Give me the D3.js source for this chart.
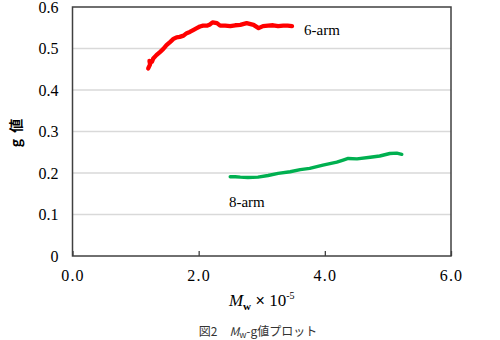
<!DOCTYPE html>
<html><head><meta charset="utf-8">
<script src="https://cdn.jsdelivr.net/npm/d3@7"></script>
<style>body{margin:0;background:#fff}svg{display:block}</style>
</head><body>
<svg id="c" width="500" height="340"></svg>
<script>
const xTicks = [0, 2, 4, 6];
const yTicks = [0, 0.1, 0.2, 0.3, 0.4, 0.5, 0.6];
const seriesNames = ["6-arm", "8-arm"];
const arm6X = [1.20,1.23,1.22,1.26,1.28,1.33,1.39,1.44,1.49,1.55,1.60,1.65,1.70,1.76,1.81,1.86,1.92,1.97,2.02,2.07,2.13,2.18,2.22,2.29,2.34,2.42,2.50,2.58,2.66,2.76,2.87,2.95,3.02,3.10,3.18,3.26,3.34,3.41,3.48];
const arm6Y = [0.452,0.462,0.470,0.468,0.476,0.484,0.492,0.499,0.508,0.516,0.523,0.527,0.528,0.531,0.537,0.540,0.545,0.549,0.553,0.555,0.555,0.558,0.563,0.561,0.555,0.555,0.554,0.556,0.557,0.561,0.557,0.549,0.554,0.555,0.556,0.554,0.555,0.555,0.554];
const arm8X = [2.50,2.58,2.66,2.78,2.94,3.10,3.26,3.45,3.61,3.76,3.97,4.19,4.29,4.37,4.51,4.72,4.87,5.03,5.14,5.22];
const arm8Y = [0.191,0.191,0.190,0.189,0.190,0.194,0.199,0.203,0.208,0.211,0.219,0.226,0.231,0.235,0.234,0.238,0.241,0.247,0.248,0.245];

const svg = d3.select("#c");
const L = 72.5, R = 451, T = 7, B = 256;
const x = d3.scaleLinear().domain([0, 6]).range([L, R]);
const y = d3.scaleLinear().domain([0, 0.6]).range([B, T]);

// gridlines
svg.append("g").selectAll("line").data(yTicks.filter(v => v > 0 && v < 0.6)).join("line")
  .attr("x1", L).attr("x2", R).attr("y1", d => y(d)).attr("y2", d => y(d))
  .attr("stroke", "#d9d9d9").attr("stroke-width", 1.3);

// frame
svg.append("rect").attr("x", L).attr("y", T).attr("width", R - L).attr("height", B - T)
  .attr("fill", "none").attr("stroke", "#404040").attr("stroke-width", 1.5);

// x axis (inward ticks)
const xa = svg.append("g").attr("transform", `translate(0,${B})`)
  .call(d3.axisBottom(x).tickValues(xTicks).tickSizeInner(-5).tickSizeOuter(0).tickPadding(14).tickFormat(d3.format(".1f")));
xa.select(".domain").remove();
xa.selectAll("line").attr("stroke", "#404040").attr("stroke-width", 1.3);
xa.selectAll("text").attr("font-family", "Liberation Serif, serif").attr("font-size", 16).attr("fill", "#000").attr("letter-spacing", 1.2);

// y axis
const ya = svg.append("g").attr("transform", `translate(${L},0)`)
  .call(d3.axisLeft(y).tickValues(yTicks).tickSize(0).tickPadding(14).tickFormat(d => d === 0 ? "0" : d3.format(".1f")(d)));
ya.select(".domain").remove();
ya.selectAll("text").attr("font-family", "Liberation Serif, serif").attr("font-size", 16).attr("fill", "#000");

// series
const line = d3.line().x(d => x(d[0])).y(d => y(d[1]));
const d6 = arm6X.map((v, i) => [v, arm6Y[i]]);
const d8 = arm8X.map((v, i) => [v, arm8Y[i]]);
svg.append("path").datum(d6).attr("d", line).attr("fill", "none").attr("stroke", "#ff0000")
  .attr("stroke-width", 4.3).attr("stroke-linejoin", "round").attr("stroke-linecap", "round");
svg.append("path").datum(d8).attr("d", line).attr("fill", "none").attr("stroke", "#00b050")
  .attr("stroke-width", 3.4).attr("stroke-linejoin", "round").attr("stroke-linecap", "round");

// series labels
svg.append("text").attr("x", x(3.67)).attr("y", y(0.532)).text(seriesNames[0])
  .attr("font-family", "Liberation Serif, serif").attr("font-size", 15).attr("fill", "#000");
svg.append("text").attr("x", x(2.48)).attr("y", y(0.118)).text(seriesNames[1])
  .attr("font-family", "Liberation Serif, serif").attr("font-size", 15).attr("fill", "#000");

// y title
const yt = svg.append("text").attr("transform", "translate(21,133) rotate(-90)").attr("text-anchor", "middle")
  .attr("font-family", "Noto Sans CJK JP, sans-serif").attr("font-size", 14).attr("fill", "#000");
yt.append("tspan").attr("font-weight", "bold").text("g");
yt.append("tspan").attr("dx", 6).attr("font-weight", "bold").text("値");

// x title
const xt = svg.append("text").attr("x", (L + R) / 2).attr("y", 306).attr("text-anchor", "middle")
  .attr("font-family", "Liberation Serif, serif").attr("font-size", 17).attr("fill", "#000");
xt.append("tspan").attr("font-style", "italic").text("M");
xt.append("tspan").attr("font-size", 11).attr("font-weight", "bold").attr("dy", 4).text("w");
xt.append("tspan").attr("dy", -4).attr("font-family", "Liberation Sans, sans-serif").attr("font-size", 16).text(" × ");
xt.append("tspan").text("10");
xt.append("tspan").attr("font-size", 10).attr("dy", -7).text("-5");

// caption
const cp = svg.append("text").attr("x", 258).attr("y", 336).attr("text-anchor", "middle")
  .attr("font-family", "Noto Sans CJK JP, sans-serif").attr("font-size", 12).attr("fill", "#333");
cp.append("tspan").text("図2　");
cp.append("tspan").attr("font-style", "italic").text("M");
cp.append("tspan").attr("font-size", 9).attr("dy", 2).text("w");
cp.append("tspan").attr("dy", -2).text("-g値プロット");
</script>
</body></html>
